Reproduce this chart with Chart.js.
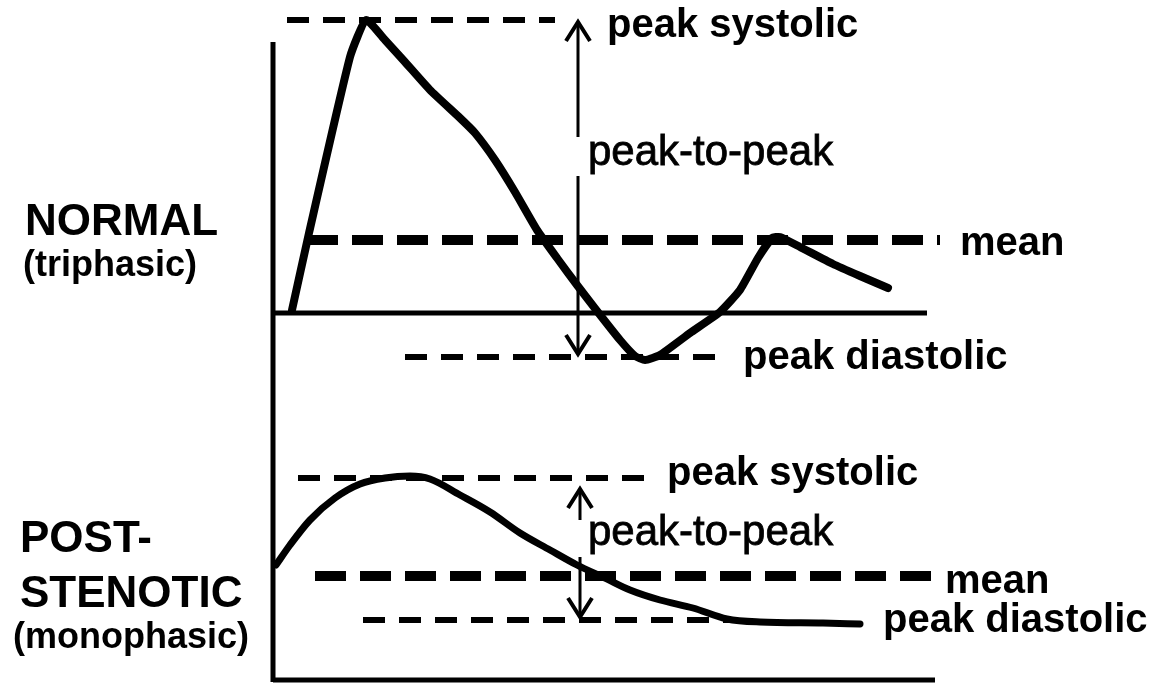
<!DOCTYPE html>
<html>
<head>
<meta charset="utf-8">
<script src="https://cdn.jsdelivr.net/npm/chart.js@4.4.1/dist/chart.umd.min.js"></script>
<style>
  html, body { margin: 0; padding: 0; background: #fff; }
  #wrap { width: 1151px; height: 685px; position: relative; }
</style>
</head>
<body>
<div id="wrap"><canvas id="doppler"></canvas></div>
<script>
const X_MAX = 1151;
const Y_MAX = 685;

// NORMAL (triphasic) waveform
const normalT = [292, 309, 350, 366, 385, 405, 430, 460, 475, 495, 515, 537, 557, 577, 597, 620, 635, 645, 660, 690, 720, 740, 758, 772, 780, 800, 833, 860, 888];
const normalV = [310, 233, 57, 20, 40, 62, 90, 118, 133, 160, 192, 230, 258, 285, 311, 340, 356, 360, 355, 333, 312, 290, 258, 238, 237, 247, 264, 276, 288];

// POST-STENOTIC (monophasic) waveform
const postT = [276, 290, 310, 335, 360, 385, 410, 430, 460, 490, 520, 550, 577, 605, 630, 660, 693, 727, 760, 823, 860];
const postV = [565, 545, 520, 498, 484, 478, 476, 479, 495, 512, 533, 550, 565, 578, 590, 600, 608, 619, 622, 623, 624];

// reference levels (peak systolic / mean / peak diastolic) for both panels
const refLevel = [20, 240, 357, 478, 576, 620];
const refStart = [287, 307, 405, 298, 315, 363];
const refEnd   = [555, 940, 722, 655, 932, 735];
const refKind  = ["thin", "mean", "thin", "thin", "mean", "thin"];

// axes of the two panels
const axisT = 273;
const axisTop = 42;
const axisBottom = 682;
const baseLevel = [313, 680];
const baseEnd = [927, 935];

// peak-to-peak arrows (broken around the label)
const arrowT = [578, 580];
const arrowTop = [22, 489];
const arrowBottom = [354, 617];
const arrowBreakTop = [137, 520];
const arrowBreakBottom = [176, 557];

// text
const labelText = ["peak systolic", "peak-to-peak", "mean", "peak diastolic",
                   "peak systolic", "peak-to-peak", "mean", "peak diastolic",
                   "NORMAL", "(triphasic)", "POST-", "STENOTIC", "(monophasic)"];
const labelT = [607, 588, 960, 743, 667, 588, 945, 883, 25, 23, 20, 20, 13];
const labelV = [37, 165, 255, 369, 485, 545, 593, 632, 235, 276, 552, 607, 648];
const labelKind = ["b", "r", "b", "b", "b", "r", "b", "b", "head", "sub", "head", "head", "sub"];

const FONT = "'Liberation Sans', Arial, sans-serif";
const labelFont = {
    b: "bold 40px " + FONT,
    r: "42px " + FONT,
    head: "bold 44px " + FONT,
    sub: "bold 36px " + FONT
};
const dashStyle = {
    thin: { width: 6, dash: [22, 14] },
    mean: { width: 10, dash: [31, 14] }
};

function pts(xs, ys) {
    return xs.map((x, i) => ({ x: x, y: ys[i] }));
}

function lineSet(data, width, extra) {
    return Object.assign({
        data: data,
        showLine: true,
        borderColor: "#000",
        backgroundColor: "#000",
        borderWidth: width,
        pointRadius: 0,
        fill: false,
        spanGaps: false
    }, extra || {});
}

const datasets = [];

// waveforms
datasets.push(lineSet(pts(normalT, normalV), 8, {
    tension: 0.15, borderJoinStyle: "round", borderCapStyle: "round"
}));
datasets.push(lineSet(pts(postT, postV), 7, {
    cubicInterpolationMode: "monotone", borderJoinStyle: "round", borderCapStyle: "round"
}));

// axes
datasets.push(lineSet([{ x: axisT, y: axisTop }, { x: axisT, y: axisBottom }], 5));
baseLevel.forEach((v, i) => {
    datasets.push(lineSet([{ x: axisT, y: v }, { x: baseEnd[i], y: v }], 5));
});

// dashed reference lines
refLevel.forEach((v, i) => {
    const s = dashStyle[refKind[i]];
    datasets.push(lineSet([{ x: refStart[i], y: v }, { x: refEnd[i], y: v }], s.width, {
        borderDash: s.dash
    }));
});

// arrows
const HEAD_W = 12, HEAD_H = 19;
arrowT.forEach((x, i) => {
    datasets.push(lineSet([
        { x: x, y: arrowTop[i] }, { x: x, y: arrowBreakTop[i] },
        { x: x, y: null },
        { x: x, y: arrowBreakBottom[i] }, { x: x, y: arrowBottom[i] }
    ], 3));
    datasets.push(lineSet([
        { x: x - HEAD_W, y: arrowTop[i] + HEAD_H }, { x: x, y: arrowTop[i] }, { x: x + HEAD_W, y: arrowTop[i] + HEAD_H }
    ], 4, { borderJoinStyle: "miter" }));
    datasets.push(lineSet([
        { x: x - HEAD_W, y: arrowBottom[i] - HEAD_H }, { x: x, y: arrowBottom[i] }, { x: x + HEAD_W, y: arrowBottom[i] - HEAD_H }
    ], 4, { borderJoinStyle: "miter" }));
});

// text labels drawn in data units
const labelPlugin = {
    id: "labels",
    afterDatasetsDraw(chart) {
        const ctx = chart.ctx;
        const xs = chart.scales.x, ys = chart.scales.y;
        ctx.save();
        ctx.fillStyle = "#000";
        ctx.strokeStyle = "#000";
        ctx.textAlign = "left";
        ctx.textBaseline = "alphabetic";
        labelText.forEach((t, i) => {
            const px = xs.getPixelForValue(labelT[i]);
            const py = ys.getPixelForValue(labelV[i]);
            ctx.font = labelFont[labelKind[i]];
            ctx.fillText(t, px, py);
            // the regular label is printed a little heavier in the figure
            if (labelKind[i] === "r") {
                ctx.lineWidth = 0.8;
                ctx.strokeText(t, px, py);
            }
        });
        ctx.restore();
    }
};

new Chart(document.getElementById("doppler").getContext("2d"), {
    type: "scatter",
    data: { datasets },
    options: {
        responsive: true,
        maintainAspectRatio: false,
        animation: false,
        layout: { padding: 0 },
        plugins: {
            legend: { display: false },
            tooltip: { enabled: false }
        },
        scales: {
            x: { type: "linear", min: 0, max: X_MAX, display: false },
            y: { type: "linear", min: 0, max: Y_MAX, reverse: true, display: false }
        }
    },
    plugins: [labelPlugin]
});
</script>
</body>
</html>
